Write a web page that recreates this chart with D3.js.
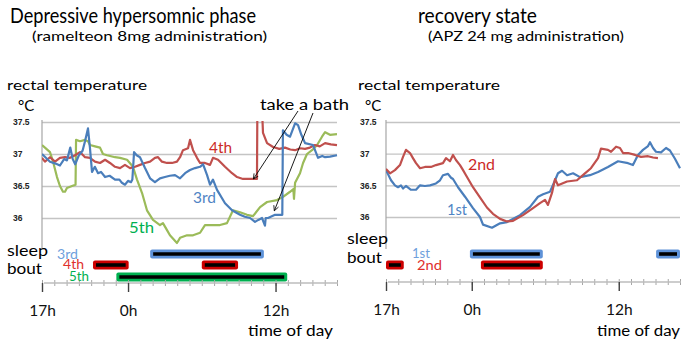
<!DOCTYPE html>
<html>
<head>
<meta charset="utf-8">
<script src="https://cdn.jsdelivr.net/npm/d3@7"></script>
<style>
  body { margin: 0; background: #fff; }
  text { font-family: Lato, "Open Sans", sans-serif; }
</style>
</head>
<body>
<div id="chart"></div>
<script>
// hours counted from 17:00 (0 = 17h, 7 = 0h, 19 = 12h)
const majorHours = [0, 7, 19];
const majorLabels = ['17h', '0h', '12h'];
const tempTicks = [36, 36.5, 37, 37.5];

// depressive hypersomnic phase, rectal temperature [hour, degC]
const depr3rd = [[0,37.0],[0.65,36.88],[1.1,36.85],[1.46,36.82],[1.8,36.92],[2.03,36.9],[2.3,37.1],[2.5,36.92],[2.7,36.84],[3.0,36.98],[3.3,37.05],[3.5,37.2],[3.74,37.4],[3.9,37.1],[4.07,36.72],[4.3,36.8],[4.56,36.7],[4.8,36.72],[5.13,36.64],[5.5,36.66],[5.94,36.6],[6.3,36.6],[6.5,36.55],[6.75,36.52],[7.0,36.58],[7.24,36.56],[7.35,36.6],[7.49,37.03],[7.7,36.98],[7.97,36.95],[8.38,36.78],[8.79,36.62],[9.19,36.56],[9.6,36.62],[10.0,36.64],[10.4,36.66],[10.82,36.67],[11.23,36.62],[11.64,36.7],[12.04,36.75],[12.45,36.78],[12.86,36.8],[13.1,36.84],[13.43,36.67],[13.67,36.52],[13.91,36.6],[14.24,36.44],[14.89,36.23],[15.46,36.12],[16.11,36.05],[16.5,36.02],[16.93,36.0],[17.33,35.94],[17.6,35.97],[17.9,36.0],[18.14,35.88],[18.2,36.0],[18.39,36.0],[18.96,36.05],[19.55,36.05],[19.6,37.37],[19.9,37.3],[20.18,37.27],[20.59,37.48],[20.83,37.45],[21.1,37.3],[21.4,37.17],[22.05,37.14],[22.46,36.94],[22.8,36.97],[23.03,36.95],[23.43,36.96],[24.0,36.98]];
const depr4th = [[0,36.94],[0.24,36.88],[0.65,36.95],[1.06,36.88],[1.46,36.94],[1.87,36.95],[2.28,36.94],[2.69,36.98],[3.09,37.03],[3.5,36.95],[3.9,36.94],[4.31,36.88],[4.72,36.86],[5.13,36.91],[5.53,36.86],[5.94,36.8],[6.35,36.78],[6.75,36.83],[7.16,36.78],[7.57,36.8],[7.97,36.83],[8.38,36.86],[8.79,36.88],[9.19,36.94],[9.44,36.95],[9.76,36.88],[10.17,36.86],[10.58,36.86],[10.98,36.88],[11.23,36.95],[11.47,37.06],[11.88,37.09],[12.04,37.22],[12.29,37.06],[12.61,36.94],[12.86,36.86],[13.26,36.86],[13.67,36.83],[13.91,36.94],[14.32,36.91],[14.89,36.8],[15.46,36.7],[15.87,36.64],[16.35,36.61],[17.49,36.61],[17.52,37.7],[17.9,37.7],[17.98,37.33],[18.31,37.17],[18.8,37.11],[19.3,37.08],[19.77,37.1],[20.2,37.07],[20.59,37.06],[21.0,37.09],[21.4,37.08],[21.8,37.1],[22.21,37.14],[22.6,37.12],[23.03,37.17],[23.5,37.15],[24.0,37.14]];
const depr5th = [[0,37.14],[0.24,37.1],[0.65,37.03],[0.9,36.88],[1.22,36.64],[1.46,36.5],[1.71,36.41],[1.87,36.41],[2.03,36.47],[2.44,36.5],[2.73,36.52],[2.77,37.22],[3.09,37.2],[3.5,37.22],[3.74,37.2],[3.9,37.14],[4.31,37.12],[4.72,37.1],[4.96,37.0],[5.29,36.98],[5.94,36.95],[6.35,36.94],[6.92,36.91],[7.4,36.8],[7.73,36.6],[8.14,36.39],[8.54,36.12],[9.03,35.97],[9.6,35.89],[9.84,35.92],[10.17,35.81],[10.41,35.73],[10.98,35.61],[11.23,35.69],[11.8,35.73],[12.29,35.73],[12.86,35.77],[13.26,35.89],[13.67,35.89],[14.48,35.89],[15.05,35.92],[15.54,36.12],[16.11,36.09],[16.68,36.05],[17.17,36.03],[17.74,36.17],[18.31,36.25],[19.12,36.28],[19.61,36.33],[20.18,36.41],[20.45,36.45],[20.5,36.3],[20.59,36.55],[20.99,36.7],[21.24,36.86],[21.56,37.0],[21.97,37.06],[22.38,37.14],[22.78,37.27],[23.03,37.34],[23.43,37.3],[24.0,37.31]];

// recovery state
const rec1st = [[0,36.74],[0.41,36.58],[0.73,36.5],[0.98,36.47],[1.22,36.5],[1.39,36.45],[1.63,36.49],[2.04,36.43],[2.45,36.43],[2.78,36.5],[3.18,36.49],[3.59,36.5],[4.08,36.53],[4.41,36.58],[4.65,36.66],[5.06,36.68],[5.31,36.62],[5.47,36.6],[5.88,36.47],[6.45,36.32],[7.1,36.14],[7.67,36.0],[7.92,35.88],[8.65,35.83],[9.31,35.9],[9.88,35.92],[10.94,36.03],[11.76,36.16],[12.41,36.32],[12.82,36.36],[13.39,36.4],[13.8,36.58],[14.04,36.69],[14.37,36.73],[14.78,36.66],[15.27,36.69],[15.84,36.63],[16.65,36.66],[17.31,36.71],[18.12,36.79],[18.94,36.88],[19.76,36.85],[20.16,36.82],[20.57,36.98],[20.98,37.06],[21.39,37.12],[21.55,37.18],[21.8,37.09],[22.04,37.03],[22.45,37.02],[22.86,37.09],[23.18,37.05],[23.59,36.92],[24.0,36.77]];
const rec2nd = [[0,36.76],[0.33,36.69],[0.73,36.74],[1.14,36.82],[1.39,36.95],[1.63,37.06],[1.96,37.01],[2.2,36.93],[2.45,36.85],[2.78,36.77],[3.18,36.79],[3.67,36.79],[4.08,36.82],[4.65,36.85],[4.9,36.93],[5.22,36.88],[5.47,36.98],[5.71,36.9],[6.04,36.82],[6.29,36.74],[6.53,36.66],[7.1,36.47],[7.67,36.31],[8.24,36.15],[8.73,36.05],[9.31,35.97],[9.88,35.93],[10.37,35.94],[11.18,36.03],[12.0,36.14],[12.57,36.22],[12.98,36.27],[13.22,36.19],[13.55,36.38],[13.8,36.6],[14.04,36.5],[14.78,36.56],[15.59,36.58],[16.24,36.69],[16.73,36.77],[17.31,36.93],[17.55,37.08],[18.12,37.06],[18.37,37.03],[18.78,37.11],[19.1,37.09],[19.35,37.01],[19.76,37.01],[20.33,36.98],[20.82,36.95],[21.39,36.96],[21.8,36.94],[22.2,36.93]];

// sleep bouts [start hour, end hour]
const bout3rd = [[8.8, 18.05]];
const bout4th = [[4.15, 7.05], [13.0, 15.95]];
const bout5th = [[6.05, 19.95]];
const bout1st = [[6.85, 12.8], [22.05, 24]];
const bout2nd = [[0, 1.45], [7.75, 12.8]];

const W = 688, H = 353;
const svg = d3.select('#chart').append('svg').attr('width', W).attr('height', H);

const C = {
  blue: '#4a7ebb', red: '#c0504d', green: '#9bbb59',
  barBlue: '#5e92d8', barRed: '#cc0000', barGreen: '#00b050',
  labBlue: '#6f9fdc', labRed: '#e0302c', labGreen: '#00b050'
};

// text with font size set by glyph height and length pinned to the reference width
function txt(x, y, s, size, w, col) {
  const t = svg.append('text').attr('x', x).attr('y', y).attr('font-size', size)
    .attr('fill', col || '#000').text(s);
  if (w) t.attr('textLength', w).attr('lengthAdjust', 'spacingAndGlyphs');
  return t;
}

svg.append('defs').append('marker')
  .attr('id', 'arr').attr('viewBox', '0 0 10 10').attr('refX', 9).attr('refY', 5)
  .attr('markerWidth', 7).attr('markerHeight', 7).attr('orient', 'auto')
  .append('path').attr('d', 'M1,1 L9,5 L1,9').attr('fill', 'none').attr('stroke', '#000').attr('stroke-width', 1.2);

function panel(o) {
  const x = d3.scaleLinear().domain([0, 24]).range([o.x0, o.x1]);
  const y = d3.scaleLinear().domain([36, 37.5]).range([o.y36, 122]);
  const g = svg.append('g');

  // gridlines + y labels
  const ya = g.append('g').attr('transform', `translate(${o.x0},0)`)
    .call(d3.axisLeft(y).tickValues(tempTicks).tickSize(-(o.x1 - o.x0)).tickFormat(d => d));
  ya.select('.domain').remove();
  ya.selectAll('line').attr('stroke', '#c4c4c4').attr('stroke-width', 1.4);
  ya.selectAll('text').attr('x', o.labX - o.x0).attr('text-anchor', 'start')
    .attr('font-size', 8.5).attr('font-weight', 'bold').attr('fill', '#222')
    .style('font-family', 'Liberation Sans, Arial, sans-serif');
  g.append('line').attr('x1', o.x0).attr('x2', o.x0).attr('y1', 120).attr('y2', 249)
    .attr('stroke', '#a6a6a6').attr('stroke-width', 1.2);

  const clipId = 'clip' + o.x0;
  svg.select('defs').append('clipPath').attr('id', clipId)
    .append('rect').attr('x', o.x0).attr('y', 121).attr('width', o.x1 - o.x0 + 2).attr('height', 130);
  const line = d3.line().x(d => x(d[0])).y(d => y(d[1]));
  o.series.forEach(s => {
    g.append('path').datum(s.data).attr('d', line).attr('clip-path', `url(#${clipId})`)
      .attr('fill', 'none').attr('stroke', s.color).attr('stroke-width', 2.2)
      .attr('stroke-linejoin', 'round');
  });

  // sleep bouts
  o.bouts.forEach(b => {
    b.ranges.forEach(r => {
      const x1 = x(r[0]), x2 = x(r[1]);
      g.append('rect').attr('x', x1).attr('y', b.y - 4.5).attr('width', x2 - x1).attr('height', 9)
        .attr('rx', 2).attr('fill', b.color);
      g.append('line').attr('x1', x1 + 3).attr('x2', x2 - 3).attr('y1', b.y).attr('y2', b.y)
        .attr('stroke', '#000').attr('stroke-width', 3.6);
    });
  });

  // time axis
  const minor = g.append('g').attr('transform', `translate(0,${o.axisY - 3})`)
    .call(d3.axisBottom(x).tickValues(d3.range(0, 25)).tickSize(6).tickFormat(''));
  minor.select('.domain').remove();
  minor.selectAll('line').attr('stroke', '#a6a6a6');
  g.append('line').attr('x1', o.x0 + 2).attr('x2', o.x1 + 1).attr('y1', o.axisY).attr('y2', o.axisY)
    .attr('stroke', '#bdbdbd').attr('stroke-width', 1.3);
  const major = g.append('g').attr('transform', `translate(0,${o.axisY})`)
    .call(d3.axisBottom(x).tickValues(majorHours).tickSize(9).tickPadding(13)
      .tickFormat((d, i) => majorLabels[i]));
  major.select('.domain').remove();
  major.selectAll('line').attr('stroke', '#404040').attr('stroke-width', 1.4);
  major.selectAll('text').attr('font-size', 15.5).attr('fill', '#111')
    .style('font-family', 'Lato, sans-serif');
  return { x, y };
}

const L = panel({
  x0: 42, x1: 337, y36: 218, labX: 13, axisY: 283,
  series: [
    { data: depr5th, color: C.green },
    { data: depr4th, color: C.red },
    { data: depr3rd, color: C.blue }
  ],
  bouts: [
    { ranges: bout3rd, y: 254, color: C.barBlue },
    { ranges: bout4th, y: 265, color: C.barRed },
    { ranges: bout5th, y: 277, color: C.barGreen }
  ]
});
const R = panel({
  x0: 386, x1: 680, y36: 217, labX: 360, axisY: 282,
  series: [
    { data: rec1st, color: C.blue },
    { data: rec2nd, color: C.red }
  ],
  bouts: [
    { ranges: bout1st, y: 254, color: C.barBlue },
    { ranges: bout2nd, y: 265, color: C.barRed }
  ]
});

// titles
txt(10, 23, 'Depressive hypersomnic phase', 22, 246);
txt(32, 41, '(ramelteon 8mg administration)', 13.5, 235);
txt(418, 23, 'recovery state', 22, 119);
txt(428, 41, '(APZ 24 mg administration)', 13.5, 196);
txt(7, 90, 'rectal temperature', 14, 140);
txt(358, 90, 'rectal temperature', 14, 142);
txt(18, 111, '°C', 15);
txt(365, 111, '°C', 15);

// in-plot series labels
txt(209, 153, '4th', 14.5, 23, '#cc2a27');
txt(193, 203, '3rd', 14.5, 23, '#4f84c4');
txt(129, 233, '5th', 14.5, 25, '#00b050');
txt(468, 170, '2nd', 14.5, 27, '#cc2a27');
txt(447, 215, '1st', 14.5, 20, '#4f84c4');

// take a bath
txt(260, 110, 'take a bath', 15.5, 89);
svg.append('line').attr('x1', 298).attr('y1', 111).attr('x2', L.x(17.2)).attr('y2', L.y(36.61))
  .attr('stroke', '#000').attr('stroke-width', 0.9).attr('marker-end', 'url(#arr)');
svg.append('line').attr('x1', 313).attr('y1', 113).attr('x2', L.x(18.9)).attr('y2', L.y(36.05) - 4)
  .attr('stroke', '#000').attr('stroke-width', 0.9).attr('marker-end', 'url(#arr)');

// sleep bout labels
txt(7, 256, 'sleep', 15, 41);
txt(7, 274, 'bout', 15, 35);
txt(57, 259, '3rd', 12.5, 21, C.labBlue);
txt(63, 269, '4th', 12.5, 21, C.labRed);
txt(69, 281, '5th', 12.5, 20, C.labGreen);
txt(347, 244, 'sleep', 15, 41);
txt(347, 263, 'bout', 15, 35);
txt(412, 258, '1st', 12.5, 18, C.labBlue);
txt(417, 270, '2nd', 12.5, 25, C.labRed);

txt(248, 336, 'time of day', 15, 85);
txt(597, 336, 'time of day', 15, 83);
</script>
</body>
</html>
